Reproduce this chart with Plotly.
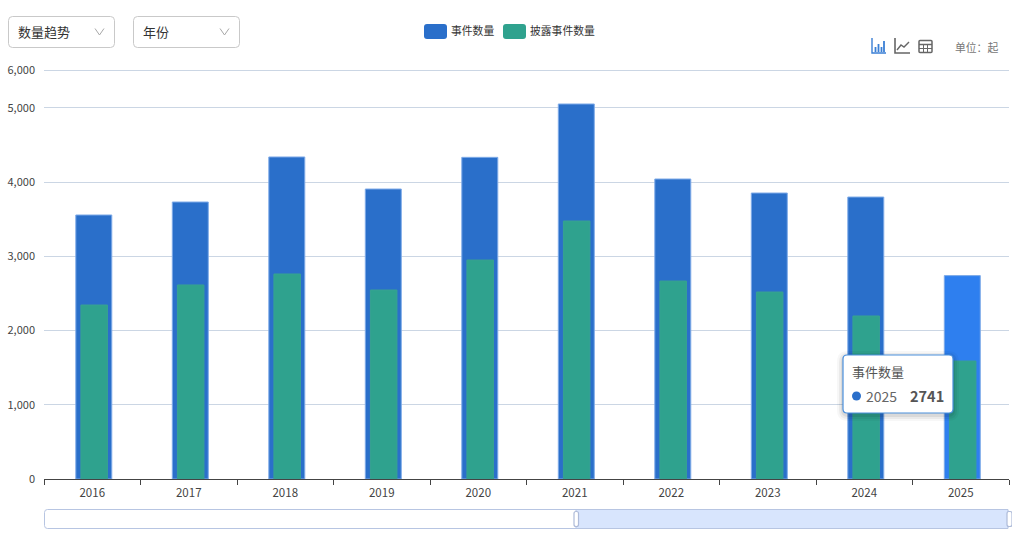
import plotly.graph_objects as go

W, H = 1012, 539
L, R, T, B = 44, 1009, 68, 479

years = ["2016","2017","2018","2019","2020","2021","2022","2023","2024","2025"]
events = [3558,3733,4340,3908,4335,5054,4043,3854,3800,2741]
disclosed = [2345,2615,2763,2547,2951,3477,2668,2520,2197,1590]
tick_vals = [0,1000,2000,3000,4000,5000,5512]
tick_text = ["0","1,000","2,000","3,000","4,000","5,000","6,000"]
FONT = "Noto Sans CJK SC"

def px(x): return (x-L)/(R-L)
def py(y): return (B-y)/(B-T)

shapes=[]; ann=[]
def rrect(x0,y0,x1,y1,r,fill,line=None,lw=1):
    p=(f"M{px(x0+r)},{py(y0)} L{px(x1-r)},{py(y0)} Q{px(x1)},{py(y0)} {px(x1)},{py(y0+r)} "
       f"L{px(x1)},{py(y1-r)} Q{px(x1)},{py(y1)} {px(x1-r)},{py(y1)} L{px(x0+r)},{py(y1)} "
       f"Q{px(x0)},{py(y1)} {px(x0)},{py(y1-r)} L{px(x0)},{py(y0+r)} Q{px(x0)},{py(y0)} {px(x0+r)},{py(y0)} Z")
    shapes.append(dict(type="path",xref="paper",yref="paper",path=p,fillcolor=fill,
                       line=dict(color=line or "rgba(0,0,0,0)",width=lw if line else 0),layer="above"))
def poly(pts,color,lw=1.5):
    p="M"+" L".join(f"{px(a)},{py(b)}" for a,b in pts)
    shapes.append(dict(type="path",xref="paper",yref="paper",path=p,line=dict(color=color,width=lw),
                       fillcolor="rgba(0,0,0,0)",layer="above"))
def text(x,y,s,size,color,anchor="left",bold=False):
    ann.append(dict(xref="paper",yref="paper",x=px(x),y=py(y),text=f"<b>{s}</b>" if bold else s,showarrow=False,
                    xanchor=anchor,yanchor="middle",font=dict(size=size,color=color,family=FONT),
                    borderpad=0,borderwidth=0))

# dropdowns
for x0,x1,lab in [(8,115,"数量趋势"),(133,240,"年份")]:
    rrect(x0+.5,16.5,x1-.5,47.5,4,"#ffffff","#c9c9c9",1)
    text(x0+10,31.5,lab,13,"#333333")
    poly([(x1-20,28.5),(x1-15.5,35),(x1-11,28.5)],"#a8a8a8",1)

# legend
rrect(424,24,447,39,3,"#2a6fca")
text(451,30,"事件数量",10.8,"#333333")
rrect(503,24,526,39,3,"#2fa28e")
text(530,30,"披露事件数量",10.8,"#333333")

# toolbar icons
blue="#3a7fd5"; grey="#666666"
poly([(872,38),(872,53),(886,53)],blue,1.4)
for xb,yt in [(875.5,47),(878.5,44),(881.5,47),(884,41)]:
    poly([(xb,52),(xb,yt)],blue,1.8)
poly([(895,38),(895,53),(910,53)],grey,1.6)
poly([(897,50),(901,45),(904,47),(909,42)],grey,1.4)
rrect(919,40.5,932,52.5,1,"rgba(0,0,0,0)",grey,1.5)
poly([(919,44.5),(932,44.5)],grey,1.5)
poly([(919,48.5),(932,48.5)],grey,1)
poly([(923.5,44.5),(923.5,52.5)],grey,1)
poly([(927.5,44.5),(927.5,52.5)],grey,1)
text(955,47,"单位：起",10.8,"#777777")

# zoom slider
rrect(44.5,509.5,1008.5,528.5,3,"#ffffff","#b7c5e2",1)
shapes.append(dict(type="rect",xref="paper",yref="paper",x0=px(576),x1=px(1008),y0=py(509.5),y1=py(528.5),
                   fillcolor="#d8e5fd",line=dict(color="#b7c5e2",width=1),layer="above"))
rrect(574,511.5,578.5,526.5,2,"#ffffff","#aebbd9",1.2)
rrect(1007,511.5,1012,526.5,2,"#ffffff","#aebbd9",1.2)

# tooltip
for i,a in [(6,.03),(4,.05),(2,.07)]:
    rrect(843-i,355-i+2,953+i,413+i+2,5+i,f"rgba(0,0,0,{a})")
rrect(843,355,953,413,4,"#ffffff","#4a8fdc",1.2)
text(852,371,"事件数量",13,"#555555")
shapes.append(dict(type="circle",xref="paper",yref="paper",x0=px(852),x1=px(861),y0=py(400.5),y1=py(391.5),
                   fillcolor="#2a6fca",line=dict(width=0),layer="above"))
text(866,395.5,"2025",14,"#666666")
text(943.5,395.5,"2741",14.5,"#555555","right",True)

BW, GW, SHIFT, GSHIFT = 0.373, 0.275, 0.016, 0.02
fig=go.Figure()
fig.add_bar(x=years,y=events,name="事件数量",width=BW,offset=-BW/2+SHIFT,
            marker=dict(color=["#2a6fca"]*9+["#2e7fef"],line=dict(color="#7fabe8",width=1)),showlegend=False)
fig.add_bar(x=years,y=disclosed,name="披露事件数量",width=GW,offset=-GW/2+GSHIFT,
            marker=dict(color="#2fa28e",line=dict(color="#38a192",width=1)),showlegend=False)
fig.update_layout(barmode="overlay",width=W,height=H,autosize=False,
    margin=dict(l=L,r=W-R,t=T,b=H-B,pad=0),paper_bgcolor="#ffffff",plot_bgcolor="#ffffff",
    font=dict(family=FONT,size=11,color="#444444"),shapes=shapes,annotations=ann,
    xaxis=dict(type="category",range=[-0.5,9.5],tickson="boundaries",ticks="outside",ticklen=5,tickcolor="#444444",
               showline=True,linecolor="#444444",linewidth=1,showgrid=False,ticklabelstandoff=3,
               tickfont=dict(size=11.5,color="#444444")),
    yaxis=dict(range=[0,5539],tickvals=tick_vals,ticktext=tick_text,showgrid=True,gridcolor="#cbd6e4",gridwidth=1,
               zeroline=False,showline=False,ticks="",ticklabelstandoff=8,tickfont=dict(size=11,color="#444444")))
fig.write_html("out.html",config=dict(displayModeBar=False),
               post_script="document.body.style.margin='0';document.body.style.overflow='hidden';")
